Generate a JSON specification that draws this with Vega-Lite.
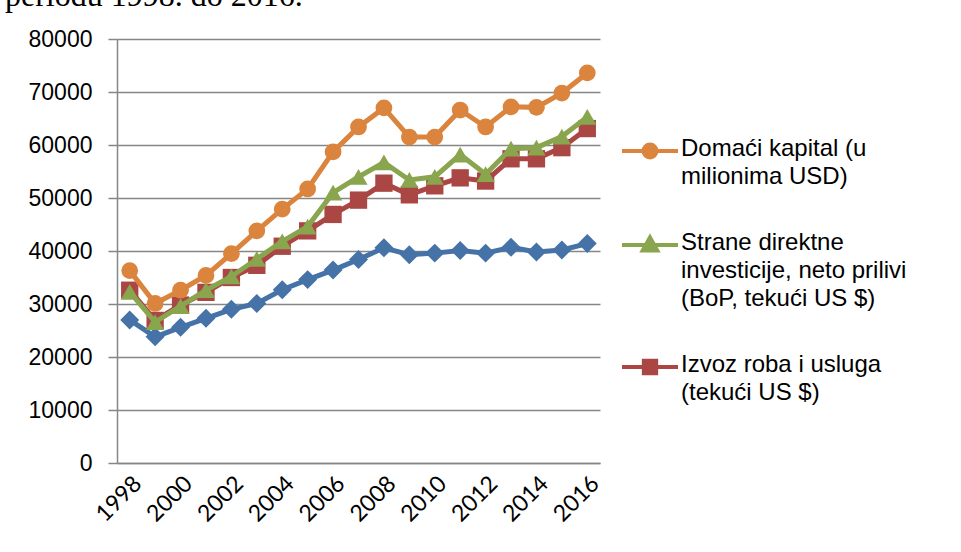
{
  "$schema": "https://vega.github.io/schema/vega-lite/v6.json",
  "width": 483,
  "height": 424,
  "autosize": {"type": "none"},
  "padding": {"left": 117, "top": 39, "right": 361, "bottom": 89},
  "background": "white",
  "title": {"text": "periodu 1998. do 2016.", "anchor": "start", "frame": "group", "font": "Liberation Serif", "fontSize": 32, "fontWeight": "normal", "color": "black", "baseline": "bottom", "offset": 0, "dx": -112, "dy": 17},
  "config": {"view": {"stroke": null}},
  "data": {"values": [
    {"year": 1998, "BDP": 27000, "Domaci": 36300, "Strane": 32300, "Izvoz": 32600},
    {"year": 1999, "BDP": 23800, "Domaci": 30100, "Strane": 26600, "Izvoz": 26900},
    {"year": 2000, "BDP": 25600, "Domaci": 32600, "Strane": 29600, "Izvoz": 29800},
    {"year": 2001, "BDP": 27300, "Domaci": 35400, "Strane": 32600, "Izvoz": 32200},
    {"year": 2002, "BDP": 29000, "Domaci": 39500, "Strane": 35200, "Izvoz": 35000},
    {"year": 2003, "BDP": 30100, "Domaci": 43800, "Strane": 38500, "Izvoz": 37300},
    {"year": 2004, "BDP": 32700, "Domaci": 47900, "Strane": 41800, "Izvoz": 40900},
    {"year": 2005, "BDP": 34600, "Domaci": 51700, "Strane": 44600, "Izvoz": 43800},
    {"year": 2006, "BDP": 36400, "Domaci": 58700, "Strane": 51000, "Izvoz": 46900},
    {"year": 2007, "BDP": 38400, "Domaci": 63400, "Strane": 54000, "Izvoz": 49600},
    {"year": 2008, "BDP": 40600, "Domaci": 67000, "Strane": 56700, "Izvoz": 52800},
    {"year": 2009, "BDP": 39300, "Domaci": 61500, "Strane": 53400, "Izvoz": 50600},
    {"year": 2010, "BDP": 39600, "Domaci": 61500, "Strane": 54000, "Izvoz": 52300},
    {"year": 2011, "BDP": 40100, "Domaci": 66600, "Strane": 58200, "Izvoz": 53800},
    {"year": 2012, "BDP": 39600, "Domaci": 63400, "Strane": 54500, "Izvoz": 53200},
    {"year": 2013, "BDP": 40700, "Domaci": 67200, "Strane": 59300, "Izvoz": 57400},
    {"year": 2014, "BDP": 39800, "Domaci": 67100, "Strane": 59500, "Izvoz": 57400},
    {"year": 2015, "BDP": 40200, "Domaci": 69800, "Strane": 61600, "Izvoz": 59500},
    {"year": 2016, "BDP": 41400, "Domaci": 73600, "Strane": 65300, "Izvoz": 63100}
  ]},
  "transform": [{"fold": ["BDP", "Izvoz", "Strane", "Domaci"], "as": ["series", "value"]}],
  "encoding": {
    "x": {"field": "year", "type": "ordinal", "axis": {"values": [1998, 2000, 2002, 2004, 2006, 2008, 2010, 2012, 2014, 2016], "labelAngle": -45, "labelFont": "Lato", "labelFontSize": 23, "labelColor": "black", "title": null, "ticks": false, "domainColor": "#868686", "domainWidth": 1.5, "labelPadding": 9}},
    "y": {"field": "value", "type": "quantitative", "scale": {"domain": [0, 80000]}, "axis": {"values": [0, 10000, 20000, 30000, 40000, 50000, 60000, 70000, 80000], "title": null, "format": "d", "labelFont": "Liberation Sans", "labelFontSize": 23, "labelColor": "black", "gridColor": "#868686", "gridWidth": 1.3, "domainColor": "#868686", "domainWidth": 1.5, "tickColor": "#868686", "tickSize": 9, "tickWidth": 1.5, "labelPadding": 16}},
    "color": {"field": "series", "type": "nominal", "scale": {"domain": ["Domaci", "Strane", "Izvoz", "BDP"], "range": ["#DB843D", "#89A54E", "#AA4643", "#4572A7"]},
      "legend": {"title": null, "orient": "none", "legendX": 503, "legendY": 82, "values": ["Domaci", "Strane", "Izvoz"], "symbolSize": 3136, "symbolStrokeWidth": 4, "labelFont": "Liberation Sans", "labelFontSize": 24, "labelColor": "black", "labelLimit": 400, "labelOffset": 1, "labelBaseline": "top", "rowPadding": 26,
        "labelExpr": "datum.value === 'Domaci' ? ['Domaći kapital (u', 'milionima USD)'] : datum.value === 'Strane' ? ['Strane direktne', 'investicije, neto prilivi', '(BoP, tekući US $)'] : ['Izvoz roba i usluga', '(tekući US $)']",
        "encode": {
          "symbols": {"update": {"shape": {"signal": "datum.value === 'Domaci' ? 'M-1,0H1M0.23,0A0.23,0.23,0,1,1,-0.23,0A0.23,0.23,0,1,1,0.23,0Z' : datum.value === 'Strane' ? 'M-1,0H1M0,-0.27L0.26,0.2H-0.26Z' : 'M-1,0H1M-0.22,-0.22H0.22V0.22H-0.22Z'"}, "fill": {"scale": "color", "field": "value"}, "stroke": {"scale": "color", "field": "value"}, "strokeWidth": {"value": 4}, "opacity": {"value": 1}}},
          "labels": {"update": {"dy": {"value": -14}, "lineHeight": {"value": 28}}}
        }}}
  },
  "layer": [
    {"transform": [{"filter": "datum.series === 'BDP'"}], "layer": [
      {"mark": {"type": "line", "strokeWidth": 5}},
      {"mark": {"type": "point", "filled": true, "opacity": 1, "shape": "diamond", "size": 360}}
    ]},
    {"transform": [{"filter": "datum.series === 'Izvoz'"}], "layer": [
      {"mark": {"type": "line", "strokeWidth": 5}},
      {"mark": {"type": "point", "filled": true, "opacity": 1, "shape": "square", "size": 300}}
    ]},
    {"transform": [{"filter": "datum.series === 'Strane'"}], "layer": [
      {"mark": {"type": "line", "strokeWidth": 5}},
      {"mark": {"type": "point", "filled": true, "opacity": 1, "shape": "triangle-up", "size": 330}}
    ]},
    {"transform": [{"filter": "datum.series === 'Domaci'"}], "layer": [
      {"mark": {"type": "line", "strokeWidth": 5}},
      {"mark": {"type": "point", "filled": true, "opacity": 1, "shape": "circle", "size": 280}}
    ]}
  ]
}
